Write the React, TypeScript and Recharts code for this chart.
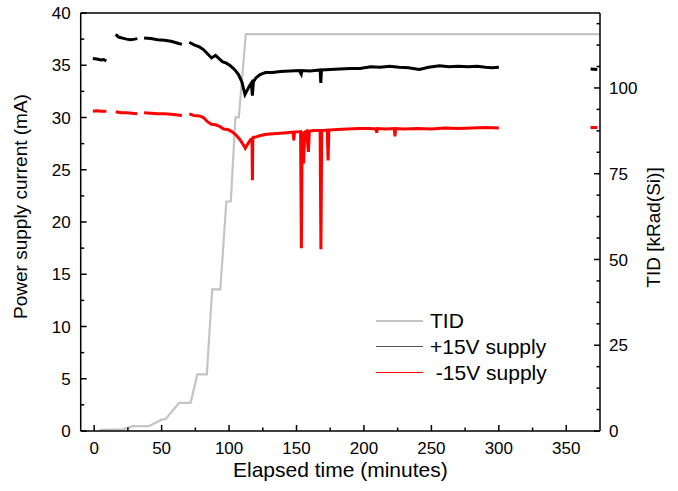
import { LineChart, Line, XAxis, YAxis, Legend, ReferenceLine } from 'recharts'

// elapsed time (minutes) / current (mA), null = gap in logging
const plusTime = [
  -1, 2, 5, 7, 9, 12,
  16, 18, 21, 24, 27, 30, 32, 34,
  37, 42, 47, 52, 57, 62, 65, 67,
  70.5, 74, 78, 81, 84, 87, 90, 92, 95, 98, 101, 104, 107, 109.5, 111.8, 113, 115, 116.5, 117.3, 118, 120,
  123, 127, 132, 138, 145, 152, 153.5, 154, 160, 167.5, 168, 168.5, 175, 182, 190, 197, 205, 212, 219,
  226, 233, 241, 248, 256, 263, 270, 277, 284, 290, 295, 300, 330,
  368, 373,
]
const plusCurrent = [
  35.65, 35.6, 35.5, 35.55, 35.4, null,
  37.95, 37.7, 37.6, 37.5, 37.45, 37.5, 37.55, null,
  37.6, 37.55, 37.45, 37.4, 37.3, 37.1, 37.0, null,
  37.2, 36.95, 36.75, 36.5, 36.1, 35.7, 35.95, 35.7, 35.35, 35.2, 34.95, 34.6, 34.1, 33.4, 32.2, 32.5, 33.0, 33.3, 32.1, 33.4, 33.8,
  34.1, 34.3, 34.3, 34.4, 34.45, 34.5, 34.15, 34.5, 34.45, 34.55, 33.3, 34.55, 34.6, 34.65, 34.7, 34.7, 34.85, 34.8, 34.9,
  34.8, 34.75, 34.6, 34.8, 34.95, 34.85, 34.9, 34.85, 34.9, 34.8, 34.75, 34.8, null,
  34.65, 34.6,
]

const minusTime = [
  -1, 2, 5, 9, 12,
  16, 20, 24, 28, 32, 34,
  37, 42, 47, 52, 57, 62, 65, 67,
  70.5, 74, 78, 81, 84, 87, 90, 93, 96, 99, 102, 105, 108, 110, 112, 114, 116, 117, 117.3, 117.6, 120,
  124, 128, 133, 138, 143, 147.5, 148, 148.5, 153, 153.6, 154.2, 155.3, 156, 157.5, 158.8, 159.5, 163,
  167.5, 168.1, 168.7, 172.8, 173.4, 174, 180, 188, 196, 204, 209, 209.5, 210, 216, 222.5, 223, 223.5,
  230, 240, 250, 260, 270, 280, 290, 300, 330,
  368, 373,
]
const minusCurrent = [
  30.6, 30.65, 30.6, 30.6, null,
  30.55, 30.45, 30.45, 30.4, 30.35, null,
  30.45, 30.4, 30.35, 30.35, 30.3, 30.25, 30.2, null,
  30.35, 30.2, 30.15, 30.0, 29.6, 29.35, 29.3, 29.15, 28.9, 28.85, 28.65, 28.35, 27.9, 27.5, 27.05, 27.5, 27.9, 28.0, 24.0, 28.05, 28.15,
  28.3, 28.4, 28.45, 28.5, 28.55, 28.6, 27.8, 28.6, 28.65, 17.5, 28.65, 25.6, 28.6, 28.7, 26.7, 28.7, 28.75,
  28.75, 17.4, 28.75, 28.8, 25.9, 28.8, 28.85, 28.9, 28.95, 28.95, 28.9, 28.55, 28.95, 28.9, 28.95, 28.2, 28.95,
  28.9, 28.95, 28.9, 29.0, 28.95, 29.0, 29.05, 29.0, null,
  29.05, 29.05,
]

// total ionizing dose, kRad(Si)
const tidTime = [4, 21.5, 25, 29, 40.5, 50, 53, 63, 71.5, 76.5, 83.5, 87.5, 93.5, 98, 101.3, 104.7, 107.2, 112.4, 375]
const tidDose = [0.3, 0.5, 1.0, 1.4, 1.4, 3.3, 3.5, 8.2, 8.2, 16.5, 16.5, 41.3, 41.3, 66.9, 66.9, 91.4, 91.4, 115.7, 115.7]

const xTicks = [0, 25, 50, 75, 100, 125, 150, 175, 200, 225, 250, 275, 300, 325, 350]
const leftTicks = [0, 2.5, 5, 7.5, 10, 12.5, 15, 17.5, 20, 22.5, 25, 27.5, 30, 32.5, 35, 37.5, 40]
const rightTicks = [0, 6.25, 12.5, 18.75, 25, 31.25, 37.5, 43.75, 50, 56.25, 62.5, 68.75, 75, 81.25, 87.5, 93.75, 100, 106.25, 112.5, 118.75]

const legendItems = [
  { name: 'TID', color: '#c4c4c4', width: 2.5 },
  { name: '+15V supply', color: '#555', width: 1.5 },
  { name: ' -15V supply', color: '#ff0000', width: 1.5 },
]

const toRows = (t: number[], v: (number | null)[]) => t.map((x, i) => ({ t: x, v: v[i] }))
const plusData = toRows(plusTime, plusCurrent)
const minusData = toRows(minusTime, minusCurrent)
const tidData = toRows(tidTime, tidDose)

const FONT = '"Liberation Sans", Arial, sans-serif'

function makeTick(side: 'left' | 'right' | 'bottom', step: number, margin: number) {
  return (props: any) => {
    const { x, y, payload } = props
    const v = payload.value
    const major = Math.abs(v / step - Math.round(v / step)) < 1e-6
    const len = major ? 6 : 3.5
    const lineProps = { stroke: '#000', strokeWidth: 1.5 }
    if (side === 'left') {
      const ax = x + margin
      return (
        <g>
          <line x1={ax} x2={ax + len} y1={y} y2={y} {...lineProps} />
          {major && <text x={x} y={y} dy="0.36em" textAnchor="end" fontSize={17} fontFamily={FONT} fill="#000">{v}</text>}
        </g>
      )
    }
    if (side === 'right') {
      const ax = x - margin
      return (
        <g>
          <line x1={ax} x2={ax - len} y1={y} y2={y} {...lineProps} />
          {major && <text x={x} y={y} dy="0.36em" textAnchor="start" fontSize={17} fontFamily={FONT} fill="#000">{v}</text>}
        </g>
      )
    }
    const ay = y - margin
    return (
      <g>
        <line x1={x} x2={x} y1={ay} y2={ay - len} {...lineProps} />
        {major && <text x={x} y={y} dy="0.71em" textAnchor="middle" fontSize={17} fontFamily={FONT} fill="#000">{v}</text>}
      </g>
    )
  }
}

function renderLegend() {
  return (
    <div style={{ fontFamily: FONT, fontSize: 21, color: '#000' }}>
      {legendItems.map((it) => (
        <div key={it.name} style={{ display: 'flex', alignItems: 'center', height: 26 }}>
          <span style={{ display: 'inline-block', width: 47, height: 0, borderTop: `${it.width}px solid ${it.color}`, marginRight: 7 }} />
          <span style={{ whiteSpace: 'pre' }}>{it.name}</span>
        </div>
      ))}
    </div>
  )
}

export default function App() {
  return (
    <div style={{ position: 'absolute', left: 0, top: 0 }}>
      <LineChart width={678} height={491} margin={{ top: 13, right: 0, left: 0, bottom: 0 }}>
        <XAxis
          dataKey="t"
          type="number"
          domain={[-10, 375]}
          ticks={xTicks}
          interval={0}
          allowDataOverflow
          height={60}
          tickSize={0}
          tickMargin={11}
          tickLine={false}
          tick={makeTick('bottom', 50, 11)}
          axisLine={{ stroke: '#000', strokeWidth: 1.5 }}
          label={{
            content: (p: any) => (
              <text x={p.viewBox.x + p.viewBox.width / 2} y={p.viewBox.y + 46} textAnchor="middle" fontSize={21} fontFamily={FONT} fill="#000">
                Elapsed time (minutes)
              </text>
            ),
          }}
        />
        <YAxis
          yAxisId="left"
          orientation="left"
          type="number"
          domain={[0, 40]}
          ticks={leftTicks}
          interval={0}
          allowDataOverflow
          width={80.7}
          tickSize={0}
          tickMargin={10}
          tickLine={false}
          tick={makeTick('left', 5, 10)}
          axisLine={{ stroke: '#000', strokeWidth: 1.5 }}
          label={{
            content: (p: any) => {
              const x = p.viewBox.x + 26.5
              const y = p.viewBox.y + p.viewBox.height / 2 - 15.5
              return (
                <text x={x} y={y} transform={`rotate(-90, ${x}, ${y})`} textAnchor="middle" fontSize={19} fontFamily={FONT} fill="#000">
                  Power supply current (mA)
                </text>
              )
            },
          }}
        />
        <YAxis
          yAxisId="right"
          orientation="right"
          type="number"
          domain={[0, 121.85]}
          ticks={rightTicks}
          interval={0}
          allowDataOverflow
          width={78}
          tickSize={0}
          tickMargin={9}
          tickLine={false}
          tick={makeTick('right', 25, 9)}
          axisLine={{ stroke: '#000', strokeWidth: 1.5 }}
          label={{
            content: (p: any) => {
              const x = p.viewBox.x + 60
              const y = p.viewBox.y + p.viewBox.height / 2 + 5.5
              return (
                <text x={x} y={y} transform={`rotate(-90, ${x}, ${y})`} textAnchor="middle" fontSize={19} fontFamily={FONT} fill="#000">
                  TID [kRad(Si)]
                </text>
              )
            },
          }}
        />
        <ReferenceLine yAxisId="left" y={40} stroke="#000" strokeWidth={1.5} />
        <Line yAxisId="right" data={tidData} dataKey="v" name="TID" stroke="#c4c4c4" strokeWidth={2.2} dot={false} isAnimationActive={false} />
        <Line yAxisId="left" data={plusData} dataKey="v" name="+15V supply" stroke="#000" strokeWidth={3} dot={false} connectNulls={false} isAnimationActive={false} />
        <Line yAxisId="left" data={minusData} dataKey="v" name="-15V supply" stroke="#ff0000" strokeWidth={3} dot={false} connectNulls={false} isAnimationActive={false} />
        <Legend
          layout="vertical"
          align="center"
          verticalAlign="middle"
          content={renderLegend}
          wrapperStyle={{ position: 'absolute', left: 376, top: 307.7, width: 220 }}
        />
      </LineChart>
    </div>
  )
}
